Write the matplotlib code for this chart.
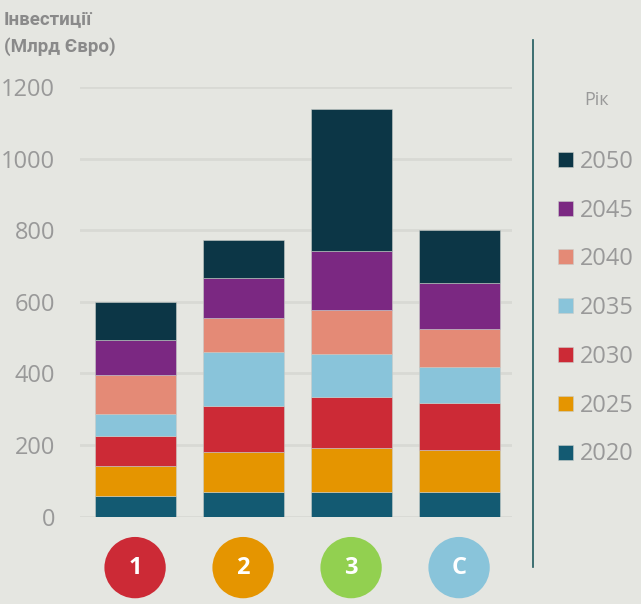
import numpy as np
import matplotlib
matplotlib.use("Agg")
import matplotlib.pyplot as plt
from matplotlib.lines import Line2D

# data
scenarios = ["1", "2", "3", "C"]
years = ["2020", "2025", "2030", "2035", "2040", "2045", "2050"]
inv_2020 = [58, 68, 68, 68]
inv_2025 = [83, 112, 123, 119]
inv_2030 = [83, 129, 143, 129]
inv_2035 = [61, 151, 119, 101]
inv_2040 = [111, 94, 125, 108]
inv_2045 = [97, 111, 164, 127]
inv_2050 = [107, 108, 397, 149]
yticks = [0, 200, 400, 600, 800, 1000, 1200]

series = [inv_2020, inv_2025, inv_2030, inv_2035, inv_2040, inv_2045, inv_2050]
colors = ["#135a72", "#e59500", "#cc2a36", "#89c4da", "#e48a76", "#7b2882", "#0c3646"]
badge_colors = ["#cc2a36", "#e59500", "#92d050", "#89c4da"]
bg = "#e5e6e1"
grey = "#999999"

plt.rcParams["font.family"] = ["Open Sans", "DejaVu Sans"]

fig = plt.figure(figsize=(6.41, 6.04), dpi=100, facecolor=bg)
ax = fig.add_axes([80 / 641, 1 - 516.5 / 604, 432 / 641, 429.5 / 604])
ax.set_facecolor(bg)

x = np.arange(len(scenarios))
bottom = np.zeros(len(scenarios))
handles = []
for vals, col, yr in zip(series, colors, years):
    b = ax.bar(x, vals, width=0.75, bottom=bottom, color=col, label=yr,
               edgecolor="#c8ccc8", linewidth=0.4, zorder=3)
    handles.append(b)
    bottom += np.array(vals)

ax.set_xlim(-0.51, 3.49)
ax.set_ylim(0, 1200)
ax.set_yticks(yticks)
ax.set_yticklabels([str(t) for t in yticks])
ax.set_xticks([])
ax.tick_params(axis="y", length=0, pad=18, labelsize=17, labelcolor=grey)
ax.grid(axis="y", color="#d8d9d4", linewidth=2, zorder=0)
for s in ax.spines.values():
    s.set_visible(False)

# scenario badges under the bars
tr = ax.get_xaxis_transform()
ax.scatter(x, [-0.119] * len(x), s=1950, c=badge_colors, transform=tr,
           clip_on=False, zorder=4, linewidths=0)
for xi, lab in zip(x, scenarios):
    ax.text(xi, -0.119, lab, transform=tr, ha="center", va="center",
            color="white", fontsize=17, fontweight="bold", zorder=5)

fig.text(4 / 641, 1 - 10 / 604, "Інвестиції\n(Млрд Євро)", ha="left", va="top",
         fontsize=13.5, fontweight="bold", color="#8a8a8a", linespacing=1.65,
         family=["Liberation Sans Narrow", "Roboto", "DejaVu Sans"])

fig.add_artist(Line2D([533 / 641, 533 / 641], [1 - 40 / 604, 1 - 567 / 604],
                      color="#1f5a5e", linewidth=1.2))

leg = ax.legend(handles[::-1], years[::-1], loc="upper left",
                bbox_to_anchor=(549 / 641, 1 - 82 / 604), bbox_transform=fig.transFigure,
                frameon=False, fontsize=17, labelcolor=grey, title="Рік",
                title_fontsize=13, handlelength=0.6, handleheight=0.6,
                handletextpad=0.3, labelspacing=1.05, borderaxespad=0)
leg.get_title().set_color(grey)
leg._legend_box.sep = 29

fig.savefig("out.png", dpi=100, facecolor=bg)
